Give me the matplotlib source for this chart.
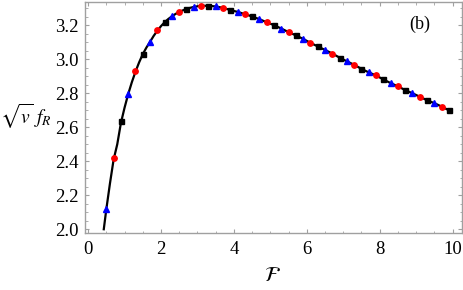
import matplotlib
matplotlib.use("Agg")
import matplotlib.pyplot as plt
import numpy as np
from matplotlib.ticker import MultipleLocator

plt.rcParams['font.family'] = ['Liberation Serif', 'DejaVu Serif']
plt.rcParams['mathtext.fontset'] = 'stix'

# marker data (x positions and read values)
marker_x = [0.5, 0.7, 0.9, 1.1, 1.3, 1.5, 1.7, 1.9, 2.1, 2.3, 2.5, 2.7, 2.9, 3.1, 3.3, 3.5,
            3.7, 3.9, 4.1, 4.3, 4.5, 4.7, 4.9, 5.1, 5.3, 5.5, 5.7, 5.9, 6.1, 6.3, 6.5, 6.7,
            6.9, 7.1, 7.3, 7.5, 7.7, 7.9, 8.1, 8.3, 8.5, 8.7, 8.9, 9.1, 9.3, 9.5, 9.7, 9.9]
marker_y = [2.12, 2.42, 2.637, 2.797, 2.93, 3.03, 3.103, 3.17, 3.22, 3.253, 3.28, 3.296,
            3.308, 3.314, 3.315, 3.311, 3.303, 3.29, 3.279, 3.266, 3.252, 3.236, 3.218,
            3.201, 3.181, 3.16, 3.141, 3.12, 3.097, 3.076, 3.055, 3.034, 3.01, 2.988,
            2.968, 2.944, 2.923, 2.905, 2.882, 2.86, 2.841, 2.819, 2.8, 2.78, 2.759,
            2.742, 2.722, 2.70]

# solid curve
line_x = [0.43, 0.5, 0.6, 0.7, 0.8, 0.9, 1.0, 1.1, 1.2, 1.3, 1.4, 1.5, 1.6, 1.7, 1.8,
          1.9, 2.0, 2.1, 2.2, 2.3, 2.4, 2.5, 2.6, 2.7, 2.8, 2.9, 3.0, 3.1, 3.2, 3.3] + marker_x[15:]
line_y = [2.0, 2.118, 2.27, 2.41, 2.50, 2.625, 2.715, 2.795, 2.865, 2.927, 2.982, 3.03,
          3.069, 3.103, 3.138, 3.168, 3.195, 3.218, 3.237, 3.253, 3.267, 3.279, 3.288,
          3.296, 3.303, 3.308, 3.312, 3.314, 3.315, 3.315] + marker_y[15:]

fig = plt.figure(figsize=(4.63, 2.90), dpi=100)
ax = fig.add_axes([0.184, 0.1966, 0.813, 0.7964])

ax.plot(line_x, line_y, color='black', lw=1.6, zorder=2)

mx = np.array(marker_x)
my = np.array(marker_y)
ax.plot(mx[0::3], my[0::3], linestyle='none', marker='^', color='#0000FF', ms=5.0, zorder=3)
ax.plot(mx[1::3], my[1::3], linestyle='none', marker='o', color='#FF0000', ms=3.9, zorder=3)
ax.plot(mx[2::3], my[2::3], linestyle='none', marker='s', color='black', ms=3.6, zorder=3)

ax.set_xlim(-0.08, 10.25)
ax.set_ylim(1.978, 3.337)
ax.xaxis.set_major_locator(MultipleLocator(2))
ax.xaxis.set_minor_locator(MultipleLocator(0.5))
ax.yaxis.set_major_locator(MultipleLocator(0.2))
ax.yaxis.set_minor_locator(MultipleLocator(0.05))
ax.yaxis.set_major_formatter(matplotlib.ticker.FormatStrFormatter('%.1f'))

for s in ax.spines.values():
    s.set_color('#A0A0A0')
    s.set_linewidth(1.0)
ax.tick_params(which='both', direction='in', top=True, right=True, color='#A0A0A0',
               labelsize=13.5, labelcolor='black')
ax.tick_params(which='major', length=3.2, width=0.8)
ax.tick_params(which='minor', length=1.8, width=0.6)
ax.tick_params(axis='x', which='both', pad=5.5)
ax.tick_params(axis='y', which='both', pad=4.5)
ax.tick_params(top=True, labeltop=False, right=True, labelright=False)

ax.text(9.1, 3.205, '(b)', fontsize=13, ha='center', va='center')
fig.text(0.055, 0.60, r'$\sqrt{v}\ f_R$', fontsize=14, ha='center', va='center')
fig.text(0.588, 0.045, r'$\mathcal{F}$', fontsize=15, ha='center', va='center')

fig.savefig('out.png', dpi=100)
